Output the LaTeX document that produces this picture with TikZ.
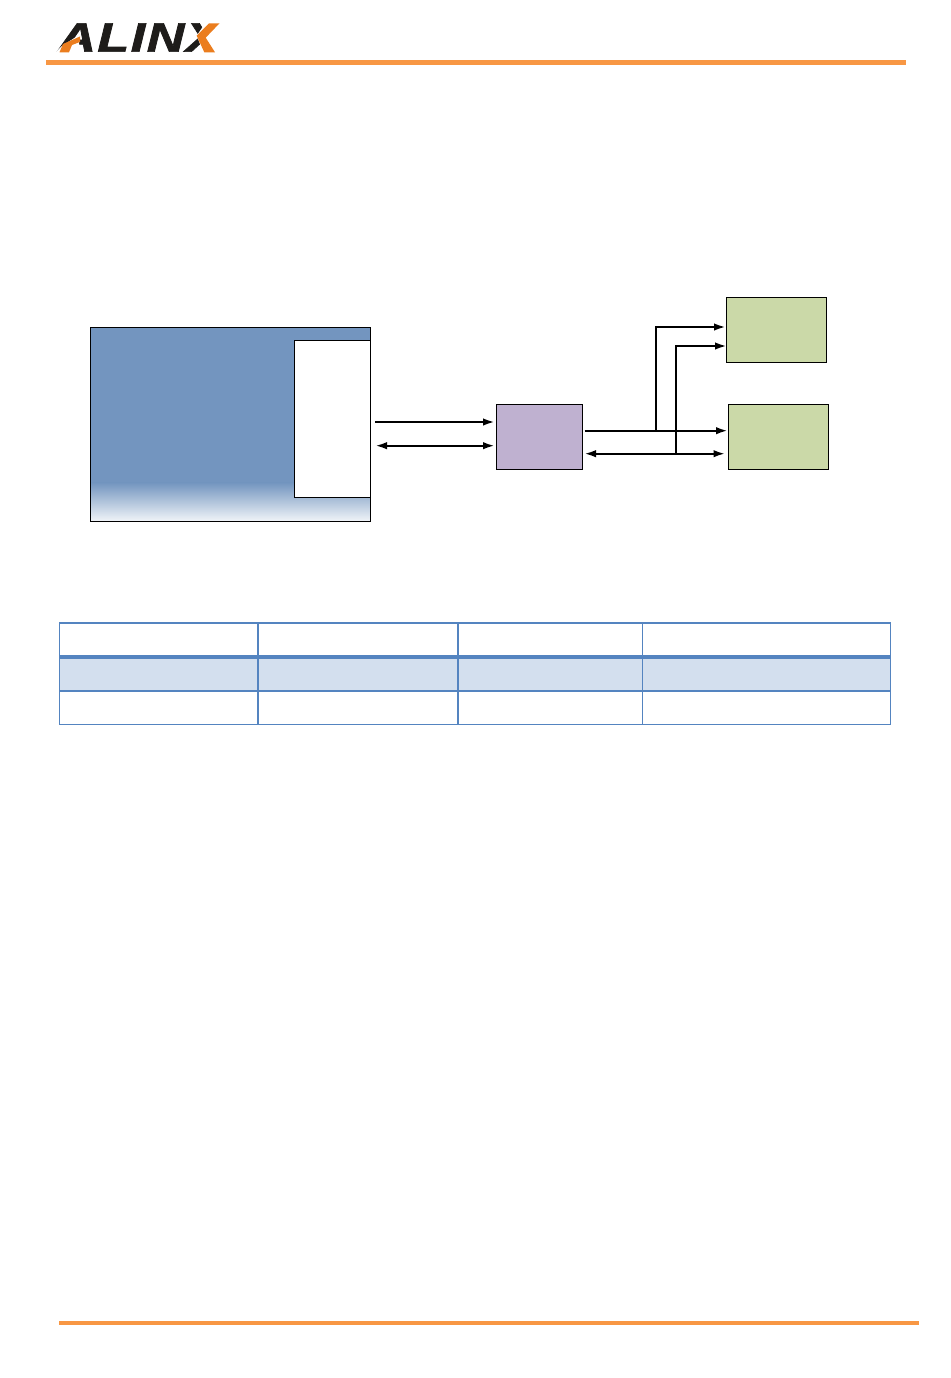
\documentclass[tikz,border=0pt]{standalone}
\usepackage{fontspec}
\setmainfont{Liberation Sans}
\usepackage{tikz}
\usetikzlibrary{arrows.meta, positioning}
\definecolor{ruleorange}{RGB}{248, 151, 68}
\definecolor{logoorange}{RGB}{235, 125, 30}
\definecolor{logodark}{RGB}{30, 28, 26}
\definecolor{fpgablue}{RGB}{115, 149, 191}
\definecolor{fadeblue}{RGB}{240, 244, 248}
\definecolor{muxpurple}{RGB}{191, 177, 208}
\definecolor{ddrgreen}{RGB}{203, 217, 168}
\definecolor{tableblue}{RGB}{84, 132, 192}
\definecolor{tablefill}{RGB}{211, 223, 238}
\tikzset{
  x=1pt, y=-1pt,
  boxnode/.style={draw=black, line width=1pt, inner sep=0pt, outer sep=0pt},
  sigarrow/.style={-{Latex[length=11.5pt, width=7.5pt]}, line width=2pt, black},
  sigboth/.style={{Latex[length=11.5pt, width=7.5pt]}-{Latex[length=11.5pt, width=7.5pt]}, line width=2pt, black},
  rulebar/.style={line width=4.7pt, ruleorange},
  cellline/.style={line width=1.8pt, tableblue}
}
\begin{document}
\begin{tikzpicture}
    \useasboundingbox (0,0) rectangle (950,1378);

    \node (logo) [anchor=center, logodark, xscale=1.27, inner sep=0pt] at (139.5,37.5) {\fontsize{41pt}{41pt}\selectfont\bfseries\itshape\addfontfeature{FakeBold=1.6, LetterSpace=3}ALINX};
    \fill[white] (62,46) -- (79,35) -- (79.5,54) -- (54,54) -- cycle;
    \fill[logoorange] (59.5,52.3) -- (63,44) -- (80,36.5) -- (80,42) -- (72,45) -- (69,52.3) -- cycle;
    \fill[white] (196.7,35.7) -- (206,22) -- (226,22) -- (226,54) -- (204,54) -- cycle;
    \fill[logoorange] (219.5,23.3) -- (209,23.3) -- (196.7,35.7) -- (204.3,52.3) -- (215,52.3) -- (205.7,37.7) -- cycle;

    \coordinate (topl) at (46,62.3);
    \coordinate (topr) at (906,62.3);
    \coordinate (footl) at (59,1323);
    \coordinate (footr) at (919,1323);
    \draw[rulebar] (topl) -- (topr);
    \draw[rulebar] (footl) -- (footr);

    \node (fpga) [boxnode, fill=fpgablue, minimum width=279.8pt, minimum height=193.7pt] at (230.4,424.2) {};
    \node (fade) [inner sep=0pt, outer sep=0pt, top color=fpgablue, bottom color=fadeblue, minimum width=278.8pt, minimum height=38.5pt, anchor=south] at (fpga.south) {};
    \draw[line width=1pt] (fpga.north west) rectangle (fpga.south east);
    \node (bank) [boxnode, fill=white, minimum width=76pt, minimum height=157pt, anchor=north east] at (370.3,340.3) {};
    \draw[line width=1.4pt] (fpga.north east) -- (fpga.south east);
    \node (mux) [boxnode, fill=muxpurple, minimum width=86pt, minimum height=65pt, right=126pt of fpga, yshift=-12.6pt] {};
    \node (ddrb) [boxnode, fill=ddrgreen, minimum width=100.4pt, minimum height=65pt, right=146pt of mux] {};
    \node (ddra) [boxnode, fill=ddrgreen, minimum width=100.4pt, minimum height=65pt, above=42pt of ddrb, xshift=-2pt] {};

    \coordinate (cmdl) at (375,422);
    \coordinate (cmdr) at (494.5,422);
    \coordinate (datal) at (375.5,445.7);
    \coordinate (datar) at (494.5,445.7);
    \coordinate (outl) at (584.7,430.7);
    \coordinate (outr) at (727.5,430.7);
    \coordinate (outup) at (656,430.7);
    \coordinate (outa) at (725.5,327);
    \coordinate (inl) at (584.5,453.7);
    \coordinate (inr) at (725,453.7);
    \coordinate (inup) at (675.7,453.7);
    \coordinate (ina) at (726.5,346);

    \draw[sigarrow] (cmdl) -- (cmdr);
    \draw[sigboth] (datal) -- (datar);
    \draw[sigarrow] (outl) -- (outr);
    \draw[sigboth] (inl) -- (inr);
    \draw[sigarrow] (outup) |- (outa);
    \draw[sigarrow] (inup) |- (ina);

    \fill[tablefill] (59.5,657) rectangle (890.5,691);
    \foreach \xa/\xb in {59.5/258, 258/458, 458/642.5, 642.5/890.5}
      \foreach \ya/\yb in {623/657, 657/691, 691/724.5}
        \draw[cellline] (\xa,\ya) rectangle (\xb,\yb);
    \draw[tableblue, line width=3.8pt] (59.5,657) -- (890.5,657);
\end{tikzpicture}
\end{document}
